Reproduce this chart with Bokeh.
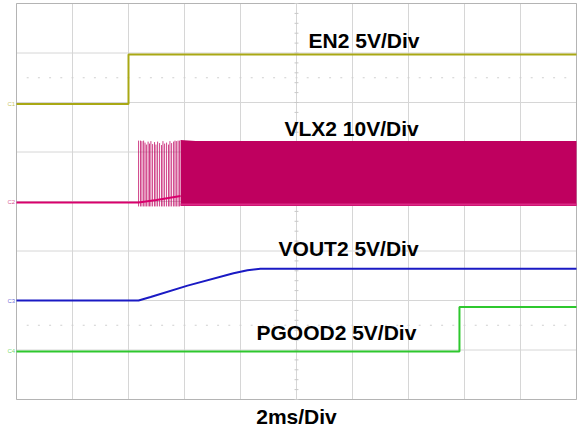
from bokeh.plotting import figure
from bokeh.models import Range1d
from bokeh.core.properties import value
from bokeh.embed import file_html
from bokeh.resources import INLINE
import numpy as np

# ---------------- data (time in ms, 2 ms/div, 10 div; 8 vertical div) ----------------
n_hdiv, ms_per_div = 10, 2.0
n_vdiv = 8

# channel setup: name, volts per division, zero-level position (div from bottom), colour
ch_names = ["EN2", "VLX2", "VOUT2", "PGOOD2"]
ch_scale = [5.0, 10.0, 5.0, 5.0]
ch_zero = [5.97, 3.98, 2.0, 0.97]
ch_color = ["#a9a814", "#bf005f", "#1a1ac4", "#2ec82e"]
ch_marker = ["C1", "C2", "C3", "C4"]
trace_labels = ["EN2 5V/Div", "VLX2 10V/Div", "VOUT2 5V/Div", "PGOOD2 5V/Div"]
x_label = "2ms/Div"

# EN2
en2_t = [0.0, 4.0, 4.0, 20.0]
en2_v = [0.0, 0.0, 5.0, 5.0]

# VLX2: idle level, first soft-start pulses, then continuous switching envelope
vlx_idle_t = [0.0, 4.36, 5.0, 5.86]
vlx_idle_v = [0.0, 0.0, 0.5, 1.3]
vlx_pulse_t = [4.36, 4.43, 4.48, 4.54, 4.59, 4.64, 4.70, 4.75, 4.80, 4.86, 4.93, 4.98, 5.04,
               5.11, 5.18, 5.23, 5.29, 5.36, 5.43, 5.48, 5.54, 5.61, 5.66, 5.71, 5.77, 5.82]
vlx_pulse_hi = [12.5, 12.5, 12.4, 12.5, 12.1, 11.7, 12.3, 11.9, 12.4, 11.8, 12.2, 11.7, 12.3,
                12.0, 11.6, 12.4, 11.9, 12.1, 11.7, 12.4, 12.0, 12.3, 12.5, 12.4, 12.5, 12.5]
vlx_pulse_lo = [-0.8] * len(vlx_pulse_t)
vlx_band_t = [5.86, 6.4, 20.0]
vlx_band_hi = [12.6, 12.4, 12.4]
vlx_band_lo = [-0.7, -0.7, -0.7]
vlx_edge_v = [-0.4, -0.4, -0.4]

# VOUT2
vout_t = [0.0, 4.36, 4.79, 6.11, 7.75, 8.25, 8.71, 20.0]
vout_v = [0.0, 0.0, 0.35, 1.5, 2.75, 3.05, 3.2, 3.2]

# PGOOD2
pg_t = [0.0, 15.82, 15.82, 20.0]
pg_v = [0.0, 0.0, 4.5, 4.5]

# ---------------- figure ----------------
W, H = 577, 428
left_px, right_px, top_px, bottom_px = 16, 576, 3, 399      # graticule box in pixels
t_end = n_hdiv * ms_per_div
px_per_ms = (right_px - left_px) / t_end
px_per_div = (bottom_px - top_px) / n_vdiv
x_rng = Range1d(-left_px / px_per_ms, t_end + (W - right_px) / px_per_ms)
y_rng = Range1d(-(H - bottom_px) / px_per_div, n_vdiv + top_px / px_per_div)

p = figure(width=W, height=H, output_backend="svg", toolbar_location=None,
           x_range=x_rng, y_range=y_rng,
           x_axis_location=None, y_axis_location=None,
           min_border_left=0, min_border_right=0, min_border_top=0, min_border_bottom=0)
p.background_fill_color = "white"
p.border_fill_color = "white"
p.outline_line_color = None
p.xgrid.visible = False
p.ygrid.visible = False

# graticule
gx = np.arange(0, t_end + 0.001, ms_per_div)
gy = np.arange(0, n_vdiv + 0.001, 1.0)
p.segment(x0=gx, x1=gx, y0=[0] * len(gx), y1=[n_vdiv] * len(gx), line_color="#d6d6d6", line_width=1)
p.segment(x0=[0] * len(gy), x1=[t_end] * len(gy), y0=gy, y1=gy, line_color="#d6d6d6", line_width=1)
p.segment(x0=[0, t_end, 0, 0], x1=[0, t_end, t_end, t_end], y0=[0, 0, 0, n_vdiv],
          y1=[n_vdiv, n_vdiv, 0, n_vdiv], line_color="#b4b4b4", line_width=1)
yy = np.arange(0, n_vdiv + 0.001, 0.2)
p.segment(x0=t_end / 2 - 0.07, x1=t_end / 2 + 0.07, y0=yy, y1=yy, line_color="#c8c8c8", line_width=1)
xx = np.arange(0.4, t_end, 0.4)
for yl in (6.5, 1.5):
    p.segment(x0=xx - 0.035, x1=xx + 0.035, y0=[yl] * len(xx), y1=[yl] * len(xx),
              line_color="#cfcfcf", line_width=1)

# per-channel volt ranges (zero at marker, scale V/div)
for name, sc, z in zip(ch_names, ch_scale, ch_zero):
    p.extra_y_ranges[name] = Range1d(y_rng.start * sc - z * sc, (y_rng.end - z) * sc)

# VLX2
p.varea(x=vlx_band_t, y1=vlx_band_lo, y2=vlx_band_hi, fill_color=ch_color[1], y_range_name="VLX2")
p.segment(x0=vlx_pulse_t, x1=vlx_pulse_t, y0=vlx_pulse_lo, y1=vlx_pulse_hi,
          line_color=ch_color[1], line_width=1, line_alpha=0.75, y_range_name="VLX2")
p.line(vlx_idle_t, vlx_idle_v, line_color="#d8006c", line_width=2, y_range_name="VLX2")
p.line(vlx_band_t, vlx_edge_v, line_color="#dc2a86", line_width=2, y_range_name="VLX2")

# EN2, VOUT2, PGOOD2
p.line(en2_t, en2_v, line_color=ch_color[0], line_width=2, y_range_name="EN2")
p.line(vout_t, vout_v, line_color=ch_color[2], line_width=2, y_range_name="VOUT2")
p.line(pg_t, pg_v, line_color=ch_color[3], line_width=2, y_range_name="PGOOD2")

# trace labels
lab_x = [10.43, 9.57, 9.36, 8.57]
lab_y = [7.25, 5.48, 3.06, 1.36]
p.text(x=lab_x, y=lab_y, text=trace_labels, text_font=value("Liberation Sans"),
       text_font_style="bold", text_font_size="21px", text_color="black",
       text_baseline="alphabetic", text_align="left")

# channel markers at left edge
p.text(x=[-0.05] * 4, y=ch_zero, text=ch_marker, text_color=ch_color, text_alpha=0.7,
       text_font=value("Liberation Sans"), text_font_size="6px",
       text_align="right", text_baseline="middle")

# horizontal scale label
p.text(x=[t_end / 2], y=[-0.345], text=[x_label], text_align="center", text_baseline="alphabetic",
       text_font=value("Liberation Sans"), text_font_style="bold",
       text_font_size="21px", text_color="black")

open("out.html", "w").write(file_html(p, INLINE))
